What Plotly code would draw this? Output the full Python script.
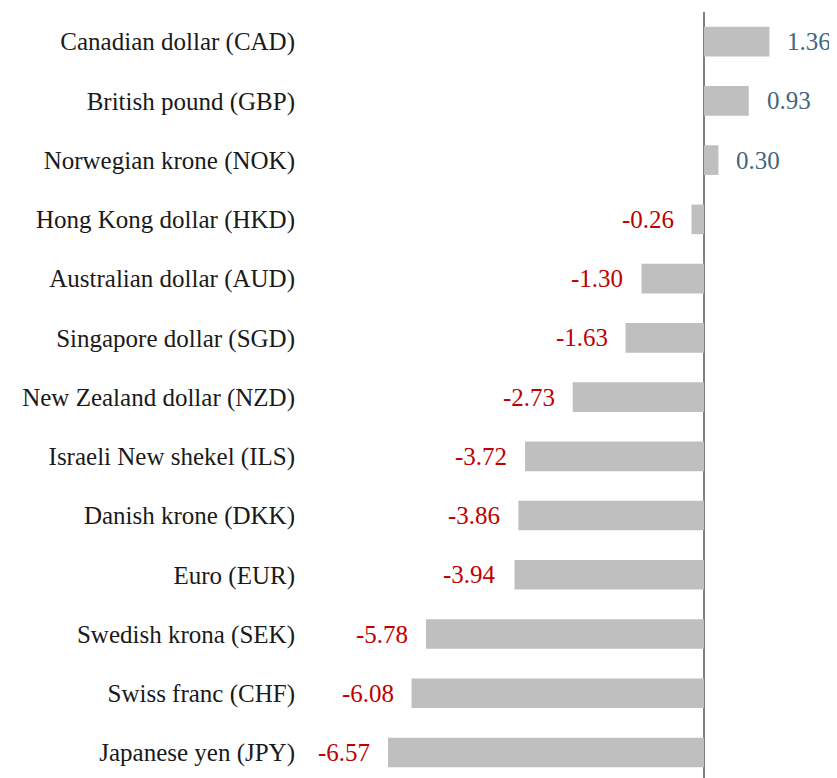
import plotly.graph_objects as go

currencies = [
    "Canadian dollar (CAD)", "British pound (GBP)", "Norwegian krone (NOK)",
    "Hong Kong dollar (HKD)", "Australian dollar (AUD)", "Singapore dollar (SGD)",
    "New Zealand dollar (NZD)", "Israeli New shekel (ILS)", "Danish krone (DKK)",
    "Euro (EUR)", "Swedish krona (SEK)", "Swiss franc (CHF)", "Japanese yen (JPY)",
]
changes = [1.36, 0.93, 0.30, -0.26, -1.30, -1.63, -2.73, -3.72, -3.86, -3.94, -5.78, -6.08, -6.57]

FONT = "Liberation Serif"
POS_COLOR = "#44667F"
NEG_COLOR = "#C00000"

fig = go.Figure(go.Bar(
    x=changes, y=currencies, orientation="h",
    marker=dict(color="#BFBFBF", line=dict(width=0)),
    width=0.5, hoverinfo="x+y",
))

for c, v in zip(currencies, changes):
    fig.add_annotation(
        x=v, y=c, text=f"{v:.2f}", showarrow=False,
        xanchor="left" if v >= 0 else "right",
        xshift=16 if v >= 0 else -16,
        font=dict(family=FONT, size=25, color=POS_COLOR if v >= 0 else NEG_COLOR),
    )

fig.update_layout(
    width=829, height=770,
    margin=dict(l=296, r=0, t=4, b=0),
    plot_bgcolor="white", paper_bgcolor="white",
    showlegend=False,
    font=dict(family=FONT, size=25, color="#1a1a1a"),
    xaxis=dict(range=[-8.316, 2.765], showgrid=False, showticklabels=False,
               zeroline=True, zerolinecolor="#808080", zerolinewidth=2, ticks=""),
    yaxis=dict(range=[12.43, -0.5], showgrid=False, ticks="", ticklabelstandoff=8,
               tickfont=dict(family=FONT, size=25, color="#1a1a1a"), showline=False),
)

fig.write_html("out.html")
